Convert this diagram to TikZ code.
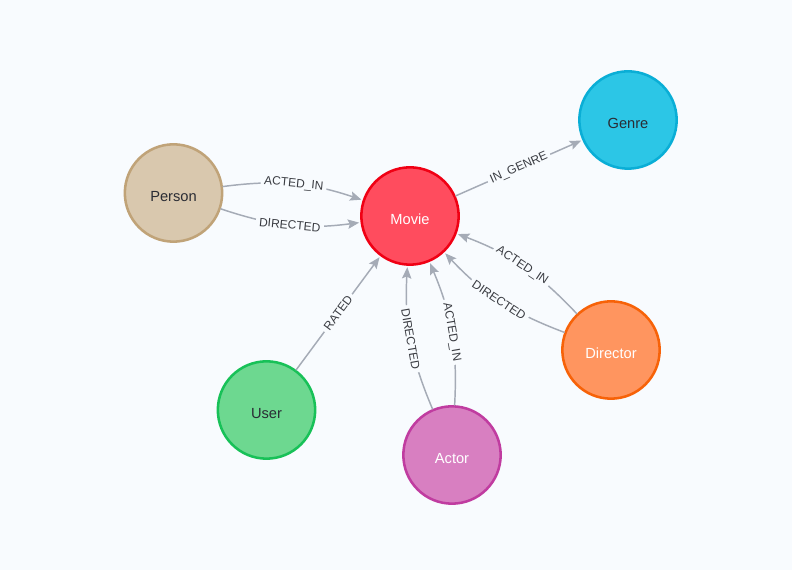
\documentclass[tikz,border=0pt]{standalone}
\usepackage{fontspec}
\setmainfont{Liberation Sans}
\usetikzlibrary{arrows.meta}
\definecolor{bg}{HTML}{F8FBFE}
\definecolor{edgegray}{HTML}{A5ABB6}
\definecolor{lblgray}{HTML}{3A3C42}
\definecolor{darktext}{HTML}{2A2C34}
\definecolor{moviefill}{HTML}{FF4C5E}
\definecolor{movieline}{HTML}{F00014}
\definecolor{genrefill}{HTML}{2CC6E6}
\definecolor{genreline}{HTML}{0AAED6}
\definecolor{personfill}{HTML}{D9C8AE}
\definecolor{personline}{HTML}{C0A378}
\definecolor{directorfill}{HTML}{FF955F}
\definecolor{directorline}{HTML}{F76208}
\definecolor{userfill}{HTML}{6DD890}
\definecolor{userline}{HTML}{18C158}
\definecolor{actorfill}{HTML}{D87FC1}
\definecolor{actorline}{HTML}{C03CA0}
\begin{document}
\begin{tikzpicture}[x=0.75pt,y=0.75pt,line cap=round,line join=round,
  ent/.style={circle,minimum size=73pt,inner sep=0pt,line width=1.9pt,
    text height=12.4pt,text depth=0pt,font=\fontsize{11}{13}\selectfont},
  rel/.style={draw=edgegray,line width=1.1pt,shorten >=1pt,
    -{Stealth[length=8.5pt,width=7pt,inset=1.5pt]}},
  lbl/.style={sloped,fill=bg,inner sep=2.5pt,text=lblgray,
    font=\fontsize{9}{10}\selectfont}]
  \path[use as bounding box,fill=bg] (0,0) rectangle (792,570);
  \node[ent,fill=moviefill,draw=movieline,text=white] (movie) at (410,354) {Movie};
  \node[ent,fill=genrefill,draw=genreline,text=darktext] (genre) at (628,450) {Genre};
  \node[ent,fill=personfill,draw=personline,text=darktext] (person) at (173.5,377) {Person};
  \node[ent,fill=directorfill,draw=directorline,text=white] (director) at (611,220) {Director};
  \node[ent,fill=userfill,draw=userline,text=darktext] (user) at (266.5,160) {User};
  \node[ent,fill=actorfill,draw=actorline,text=white] (actor) at (452,115) {Actor};
  \draw[rel] (person) to[bend left=13] node[lbl] {ACTED\_IN} (movie);
  \draw[rel] (person) to[bend right=13] node[lbl] {DIRECTED} (movie);
  \draw[rel] (movie) -- node[lbl] {IN\_GENRE} (genre);
  \draw[rel] (user) -- node[lbl] {RATED} (movie);
  \draw[rel] (actor) to[bend left=13] node[lbl] {DIRECTED} (movie);
  \draw[rel] (actor) to[bend right=13] node[lbl] {ACTED\_IN} (movie);
  \draw[rel] (director) to[bend right=13] node[lbl] {ACTED\_IN} (movie);
  \draw[rel] (director) to[bend left=13] node[lbl] {DIRECTED} (movie);
\end{tikzpicture}
\end{document}
